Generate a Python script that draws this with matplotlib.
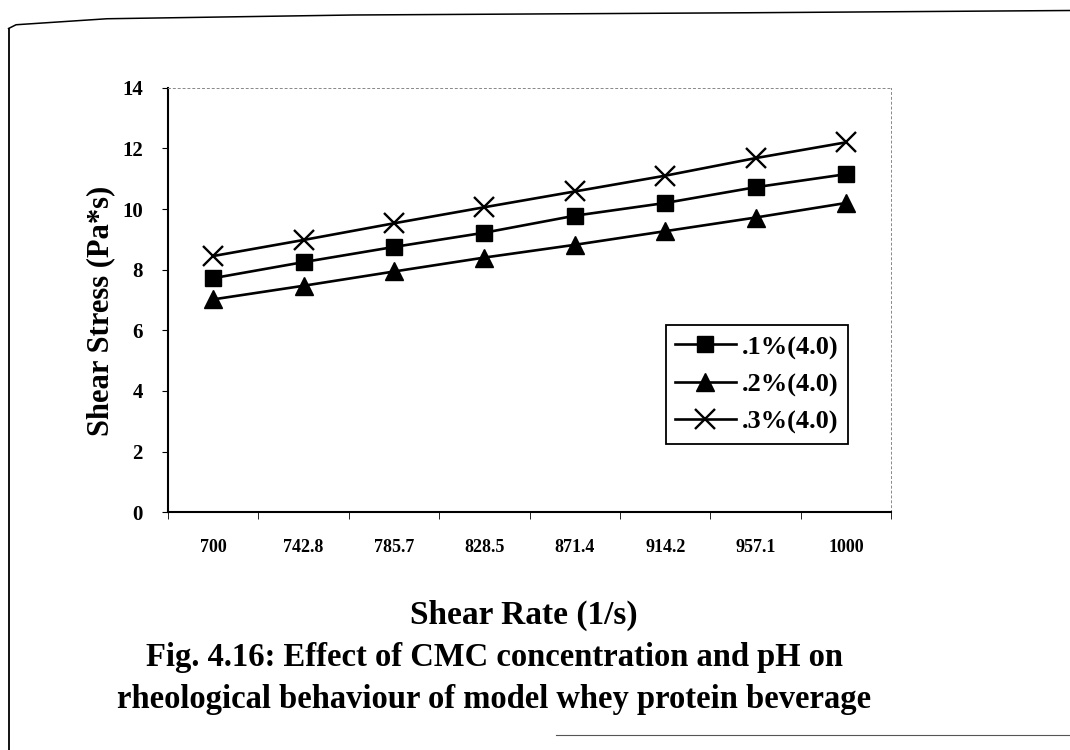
import numpy as np
import matplotlib.pyplot as plt
from matplotlib.lines import Line2D

# shear rate categories (1/s)
shear_rate = ["700", "742.8", "785.7", "828.5", "871.4", "914.2", "957.1", "1000"]

# shear stress (Pa*s) for each CMC concentration at pH 4.0
cmc_01 = [7.72, 8.25, 8.75, 9.22, 9.78, 10.2, 10.72, 11.15]
cmc_02 = [7.02, 7.47, 7.94, 8.40, 8.82, 9.27, 9.72, 10.2]
cmc_03 = [8.45, 8.98, 9.53, 10.06, 10.58, 11.1, 11.68, 12.2]

labels = [".1%(4.0)", ".2%(4.0)", ".3%(4.0)"]

plt.rcParams["font.family"] = ["Liberation Serif", "DejaVu Serif"]
plt.rcParams["font.weight"] = "bold"

fig = plt.figure(figsize=(10.7, 7.5), dpi=100)
ax = fig.add_axes([0.157, 0.317, 0.676, 0.566])

x = np.arange(len(shear_rate))
ax.plot(x, cmc_01, color="black", lw=1.9, marker="s", ms=12, label=labels[0])
ax.plot(x, cmc_02, color="black", lw=1.9, marker="^", ms=13, label=labels[1])
ax.plot(x, cmc_03, color="black", lw=1.9, marker="x", ms=14, mew=1.7,
        label=labels[2])

ax.set_xlim(-0.5, len(shear_rate) - 0.5)
ax.set_ylim(0, 14)
ax.set_yticks(range(0, 15, 2))
ax.tick_params(axis="y", labelsize=15, length=4, direction="out", pad=14)

# category labels sit at the centres, tick marks at the category boundaries
ax.set_xticks(x)
ax.set_xticklabels(shear_rate)
ax.tick_params(axis="x", which="major", length=0, labelsize=13, pad=19)
ax.set_xticks(np.arange(-0.5, len(shear_rate)), minor=True)
ax.tick_params(axis="x", which="minor", length=5, direction="out")

for side in ["top", "right"]:
    ax.spines[side].set_linestyle((0, (2, 3)))
    ax.spines[side].set_color("#888888")
    ax.spines[side].set_linewidth(0.7)
for side in ["left", "bottom"]:
    ax.spines[side].set_linewidth(1.5)

fig.text(0.094, 0.585, "Shear Stress (Pa*s)", rotation=90, ha="center",
         va="center", fontsize=22, fontweight="bold")

leg = ax.legend(loc="upper left", bbox_to_anchor=(0.688, 0.441), fontsize=19,
                frameon=True, fancybox=False, edgecolor="black",
                handlelength=2.3, handletextpad=0.25, borderpad=0.35,
                labelspacing=0.45, borderaxespad=0, handleheight=0.9)
leg.get_frame().set_linewidth(1.3)
leg.get_frame().set_alpha(1)

fig.text(0.49, 0.18, "Shear Rate (1/s)", ha="center", va="center",
         fontsize=24, fontweight="bold")
fig.text(0.462, 0.123, "Fig. 4.16: Effect of CMC concentration and pH on",
         ha="center", va="center", fontsize=23.5, fontweight="bold")
fig.text(0.462, 0.067, "rheological behaviour of model whey protein beverage",
         ha="center", va="center", fontsize=23.5, fontweight="bold")

# page frame around the figure
fig.add_artist(Line2D([0.008, 0.008], [0.0, 0.962], color="black", lw=1.3))
fig.add_artist(Line2D([0.008, 0.015, 0.1, 0.33, 0.7, 1.0],
                      [0.962, 0.967, 0.975, 0.98, 0.983, 0.986],
                      color="black", lw=1.1))
fig.add_artist(Line2D([0.52, 1.0], [0.02, 0.02], color="#555555", lw=0.8))

fig.savefig("out.png", dpi=100)
